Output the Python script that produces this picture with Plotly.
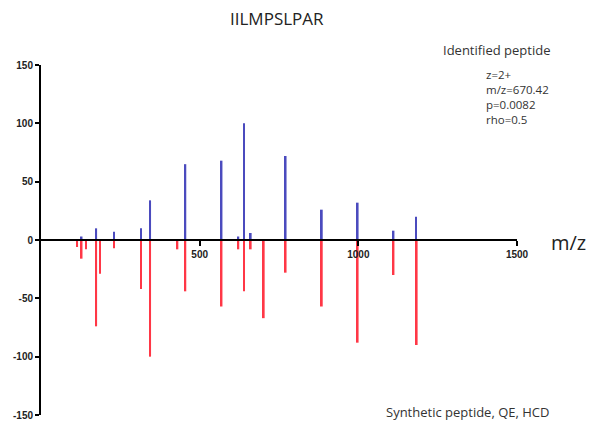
import plotly.graph_objects as go

# Identified peptide spectrum (positive, blue)
ident_mz = [128, 174, 230, 315, 344, 455, 569, 622, 640, 661, 771, 885, 998, 1111, 1182]
ident_int = [3, 10, 7, 10, 34, 65, 68, 3, 100, 6, 72, 26, 32, 8, 20]

# Synthetic peptide spectrum (negative, red)
synth_mz = [114, 128, 142, 174, 186, 230, 315, 344, 430, 455, 569, 622, 640, 661, 702, 771, 885, 998, 1111, 1184]
synth_int = [-6, -16, -8, -74, -29, -7, -42, -100, -8, -44, -57, -8, -44, -8, -67, -28, -57, -88, -30, -90]

x_ticks = [500, 1000, 1500]
y_ticks = [150, 100, 50, 0, -50, -100, -150]

blue = "rgb(75,75,190)"
red = "rgb(255,55,70)"

fig = go.Figure()
fig.add_trace(go.Bar(x=ident_mz, y=ident_int, width=5.5, marker=dict(color=blue, line=dict(width=0)),
                     showlegend=False))
fig.add_trace(go.Bar(x=synth_mz, y=synth_int, width=5.5, marker=dict(color=red, line=dict(width=0)),
                     showlegend=False))

axis_font = dict(family="Liberation Sans, Arial", size=10, color="#222", weight="bold")

fig.update_layout(
    width=600, height=425,
    margin=dict(l=41, r=83, t=65, b=10, autoexpand=False),
    plot_bgcolor="white", paper_bgcolor="white",
    barmode="overlay",
    xaxis=dict(range=[0, 1500], anchor="free", position=0.5, showgrid=False, zeroline=False,
               automargin=False,
               showline=True, linecolor="black", linewidth=2,
               ticks="outside", ticklen=5, tickwidth=2, tickcolor="black",
               tickvals=x_ticks, ticktext=[str(v) for v in x_ticks], tickfont=axis_font),
    yaxis=dict(range=[-150, 150], showgrid=False, zeroline=False, automargin=False,
               showline=True, linecolor="black", linewidth=2,
               ticks="outside", ticklen=4, tickwidth=2, tickcolor="black",
               tickvals=y_ticks, ticktext=[str(v) for v in y_ticks], tickfont=axis_font),
    font=dict(family="Open Sans, Noto Sans", color="#333"),
)

# convert pixel-based positions into paper coords
def px(x):
    return (x - 41) / (600 - 41 - 83)
def py(y):
    return (425 - 10 - y) / (425 - 65 - 10)

def note(text, x, y, size, xanchor="center", color="#333", align="center"):
    fig.add_annotation(text=text, x=px(x), y=py(y), xref="paper", yref="paper", showarrow=False,
                       xanchor=xanchor, yanchor="middle", align=align,
                       font=dict(size=size, family="Open Sans", color=color))

note("IILMPSLPAR", 277, 19, 17, color="#222")
note("Identified peptide", 496, 50, 13)
note("z=2+<br>m/z=670.42<br>p=0.0082<br>rho=0.5", 484, 97, 11.5, xanchor="left", align="left")
note("m/z", 568, 242, 20, color="#222")
note("Synthetic peptide, QE, HCD", 467, 412, 13)

fig.write_html("out.html")
